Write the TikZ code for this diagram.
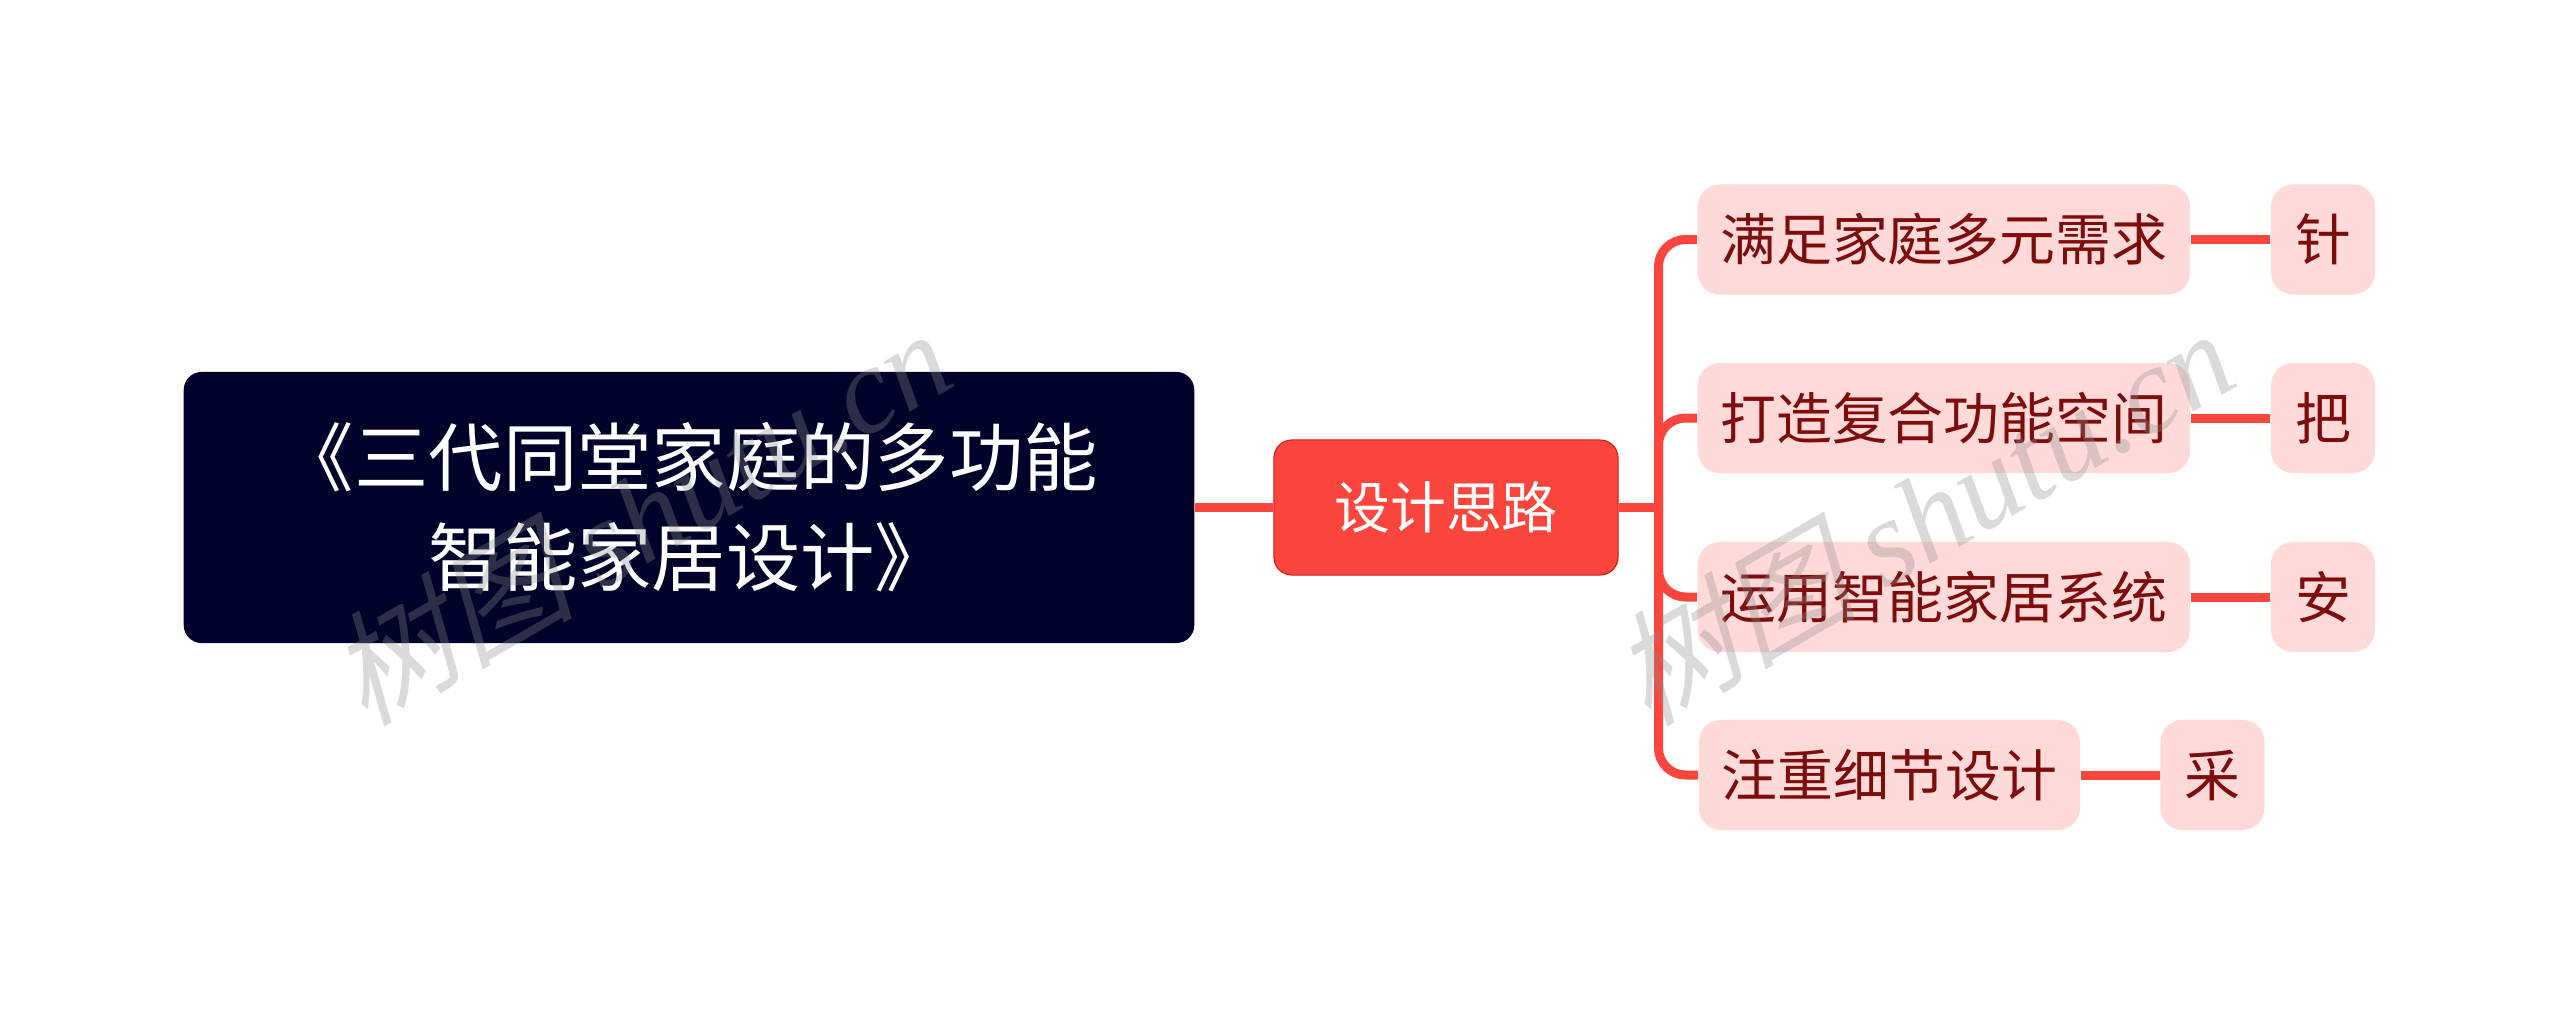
\documentclass[tikz,border=0pt]{standalone}
\usepackage{fontspec}
\setmainfont{Noto Sans CJK SC}
\newfontfamily\markfont[FakeSlant=0.25]{Noto Sans CJK SC}
\newfontfamily\marklatin[Ligatures=TeX]{Liberation Serif Italic}
\definecolor{rootfill}{HTML}{000229}
\definecolor{redfill}{HTML}{FB453D}
\definecolor{pinkfill}{HTML}{FFDAD8}
\definecolor{darkred}{HTML}{7D0C0C}
\tikzset{
	topic/.style={rectangle,rounded corners=0.18cm,inner sep=0pt,align=center},
	rootbox/.style={topic,fill=rootfill,text=white,minimum width=10.1cm,minimum height=2.71cm,font=\fontsize{21.15}{28.5}\selectfont},
	midbox/.style={topic,fill=redfill,draw=red!70!black!60!redfill,line width=0.3pt,text=white,minimum width=3.44cm,minimum height=1.35cm,font=\fontsize{15.9}{19}\selectfont},
	subbox/.style={topic,fill=pinkfill,text=darkred,minimum height=1.1cm,rounded corners=0.22cm,font=\fontsize{15.9}{19}\selectfont},
	link/.style={redfill,line width=0.09cm},
	wmark/.style={text=black!45,opacity=0.32,rotate=30,inner sep=0pt},
}
\begin{document}
\begin{tikzpicture}[x=0.01cm,y=-0.01cm]
\useasboundingbox (0,0) rectangle (2560,1015);
% main topics
\node[rootbox] (root) at (689,507.5) {《三代同堂家庭的多功能\\智能家居设计》};
\node[midbox] (design) at (1446,507.5) {设计思路};
% branches
\node[subbox,minimum width=4.92cm] (need) at (2190,239.5) [xshift=-2.46cm] {满足家庭多元需求};
\node[subbox,minimum width=4.92cm] (space) at (2190,418) [xshift=-2.46cm] {打造复合功能空间};
\node[subbox,minimum width=4.92cm] (smart) at (2190,597) [xshift=-2.46cm] {运用智能家居系统};
\node[subbox,minimum width=3.81cm] (detail) at (2080,775) [xshift=-1.905cm] {注重细节设计};
\node[subbox,minimum width=1.04cm] (needleaf) at (2323,239.5) {针};
\node[subbox,minimum width=1.04cm] (spaceleaf) at (2323,418) {把};
\node[subbox,minimum width=1.04cm] (smartleaf) at (2323,597) {安};
\node[subbox,minimum width=1.04cm] (detailleaf) at (2212.5,775) {采};
\coordinate (trunk) at (1658.5,507.5);
\draw[link] (root.east) -- (design.west);
\draw[link] (design.east) -- (trunk);
\foreach \t in {need,space,smart,detail} {
	\draw[link,rounded corners=0.27cm] (trunk) |- (\t.west);
	\draw[link] (\t.east) -- (\t leaf.west);
}
% watermarks
\node[wmark] (markleft) at (639,515) {\fontsize{35}{36}\selectfont\markfont 树图\ \marklatin shutu.cn};
\node[wmark] (markright) at (1922,515) {\fontsize{35}{36}\selectfont\markfont 树图\ \marklatin shutu.cn};
\end{tikzpicture}
\end{document}
